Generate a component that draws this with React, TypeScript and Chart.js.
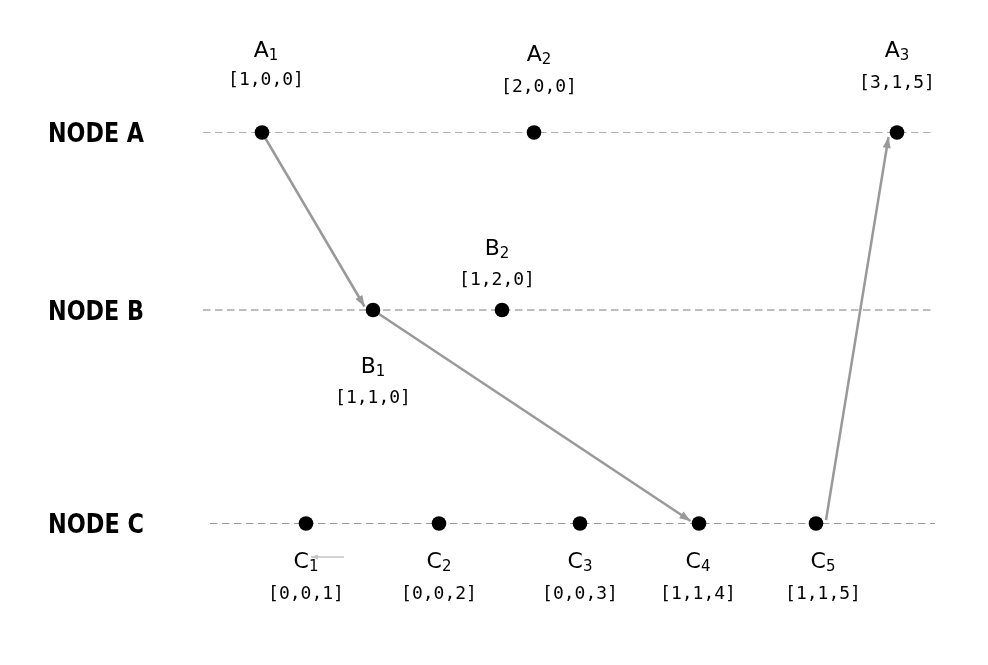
import { Chart, registerables } from "chart.js";
import { useEffect, useRef } from "react";

Chart.register(...registerables);

// node timelines (y value of each lane, x range of the dashed line)
const nodeNames = ["NODE A", "NODE B", "NODE C"];
const nodeLaneY = [13.25, 31.0, 52.35];
const laneStartX = [20.3, 20.3, 21.0];
const laneEndX = [93.5, 93.5, 93.5];

// events on the timelines
const eventLetters = ["A", "A", "A", "B", "B", "C", "C", "C", "C", "C"];
const eventSubs = ["1", "2", "3", "1", "2", "1", "2", "3", "4", "5"];
const eventNode = [0, 0, 0, 1, 1, 2, 2, 2, 2, 2];
const eventTime = [26.2, 53.4, 89.7, 37.3, 50.2, 30.6, 43.9, 58.0, 69.9, 81.6];
const eventClocks = [
  "[1,0,0]",
  "[2,0,0]",
  "[3,1,5]",
  "[1,1,0]",
  "[1,2,0]",
  "[0,0,1]",
  "[0,0,2]",
  "[0,0,3]",
  "[1,1,4]",
  "[1,1,5]",
];

// messages (start -> arrow tip)
const msgFromX = [26.2, 37.3, 82.6, 34.4];
const msgFromY = [13.25, 31.0, 52.0, 55.7];
const msgToX = [36.45, 69.05, 88.85, 31.1];
const msgToY = [30.65, 52.1, 13.7, 55.7];

// label placement in pixels, relative to the event dot
const labelDx = [4, 5, 0, 0, -5, 0, 0, 0, -1, 7];
const nameDy = [-75.8, -71.7, -75.7, 63, -55, 44.5, 44.5, 44.5, 44.5, 44.5];
const clockDy = [-47.8, -41, -44.6, 92.7, -25, 75.5, 75.5, 75.5, 75.5, 75.5];

const laneColors = ["#b0b0b0", "#7a7a7a", "#9a9a9a"];

const arrowHeads = {
  id: "arrowHeads",
  afterDatasetDraw(chart: any, args: any) {
    const ds = chart.data.datasets[args.index];
    if (!ds.isMessage) return;
    const pts = args.meta.data;
    if (pts.length < 2) return;
    const a = pts[0];
    const b = pts[1];
    const ang = Math.atan2(b.y - a.y, b.x - a.x);
    const len = ds.headLen;
    const hw = ds.headHalf;
    const ctx = chart.ctx;
    ctx.save();
    ctx.fillStyle = ds.borderColor;
    ctx.beginPath();
    ctx.moveTo(b.x, b.y);
    ctx.lineTo(
      b.x - len * Math.cos(ang) + hw * Math.sin(ang),
      b.y - len * Math.sin(ang) - hw * Math.cos(ang)
    );
    ctx.lineTo(
      b.x - len * Math.cos(ang) - hw * Math.sin(ang),
      b.y - len * Math.sin(ang) + hw * Math.cos(ang)
    );
    ctx.closePath();
    ctx.fill();
    ctx.restore();
  },
};

const textLabels = {
  id: "textLabels",
  afterDatasetsDraw(chart: any) {
    const ctx = chart.ctx;
    const xs = chart.scales.x;
    const ys = chart.scales.y;
    ctx.save();
    ctx.fillStyle = "#000";
    ctx.textBaseline = "alphabetic";

    // node names
    nodeNames.forEach((name, i) => {
      const y = ys.getPixelForValue(nodeLaneY[i]) + 9.8;
      ctx.font = "bold 27px 'DejaVu Sans', sans-serif";
      ctx.textAlign = "left";
      const w = ctx.measureText(name).width;
      ctx.save();
      ctx.translate(48, y);
      ctx.scale(96 / w, 1);
      ctx.fillText(name, 0, 0);
      ctx.restore();
    });

    // event names and vector clocks
    eventTime.forEach((t, i) => {
      const cx = xs.getPixelForValue(t) + labelDx[i];
      const cy = ys.getPixelForValue(nodeLaneY[eventNode[i]]);
      ctx.textAlign = "left";
      ctx.font = "22px 'DejaVu Sans', sans-serif";
      const wl = ctx.measureText(eventLetters[i]).width;
      ctx.font = "15px 'DejaVu Sans', sans-serif";
      const ws = ctx.measureText(eventSubs[i]).width;
      const x0 = cx - (wl + ws) / 2;
      ctx.font = "22px 'DejaVu Sans', sans-serif";
      ctx.fillText(eventLetters[i], x0, cy + nameDy[i]);
      ctx.font = "15px 'DejaVu Sans', sans-serif";
      ctx.fillText(eventSubs[i], x0 + wl, cy + nameDy[i] + 3);

      ctx.font = "18px 'DejaVu Sans Mono', monospace";
      ctx.textAlign = "center";
      ctx.fillText(eventClocks[i], cx, cy + clockDy[i]);
    });
    ctx.restore();
  },
};

const App = () => {
  const chartRef = useRef<Chart | null>(null);
  const canvasRef = useRef<HTMLCanvasElement | null>(null);

  useEffect(() => {
    if (!canvasRef.current) return;
    if (chartRef.current) chartRef.current.destroy();
    const ctx = canvasRef.current.getContext("2d");
    if (!ctx) return;

    const laneSets = nodeNames.map((name, i) => ({
      label: name,
      data: [
        { x: laneStartX[i], y: nodeLaneY[i] },
        { x: laneEndX[i], y: nodeLaneY[i] },
      ],
      showLine: true,
      borderColor: laneColors[i],
      borderWidth: 1,
      borderDash: [7.5, 4.5],
      pointRadius: 0,
      order: 3,
    }));

    const msgSets = msgFromX.map((fx, i) => {
      const stray = i === 3;
      return {
        label: "msg" + i,
        isMessage: true,
        headLen: stray ? 7 : 11,
        headHalf: stray ? 2.5 : 4,
        data: [
          { x: fx, y: msgFromY[i] },
          { x: msgToX[i], y: msgToY[i] },
        ],
        showLine: true,
        borderColor: stray ? "#c4c4c4" : "#999999",
        borderWidth: stray ? 1.5 : 2.5,
        pointRadius: 0,
        order: 2,
      };
    });

    const eventSet = {
      label: "events",
      data: eventTime.map((t, i) => ({ x: t, y: nodeLaneY[eventNode[i]] })),
      backgroundColor: "#000",
      borderColor: "#000",
      borderWidth: 0,
      pointRadius: 7.3,
      order: 1,
    };

    chartRef.current = new Chart(ctx, {
      type: "scatter",
      data: { datasets: [eventSet, ...msgSets, ...laneSets] as any },
      options: {
        responsive: true,
        maintainAspectRatio: false,
        animation: false,
        events: [],
        layout: { padding: 0, autoPadding: false },
        scales: {
          x: { type: "linear", min: 0, max: 98.8, display: false },
          y: { type: "linear", min: 0, max: 66.5, reverse: true, display: false },
        },
        plugins: {
          legend: { display: false },
          tooltip: { enabled: false },
        },
      },
      plugins: [arrowHeads, textLabels],
    });

    return () => {
      if (chartRef.current) {
        chartRef.current.destroy();
        chartRef.current = null;
      }
    };
  }, []);

  return (
    <div
      style={{
        position: "fixed",
        left: 0,
        top: 0,
        width: 988,
        height: 665,
        background: "#fff",
      }}
    >
      <canvas ref={canvasRef}></canvas>
    </div>
  );
};

export default App;
